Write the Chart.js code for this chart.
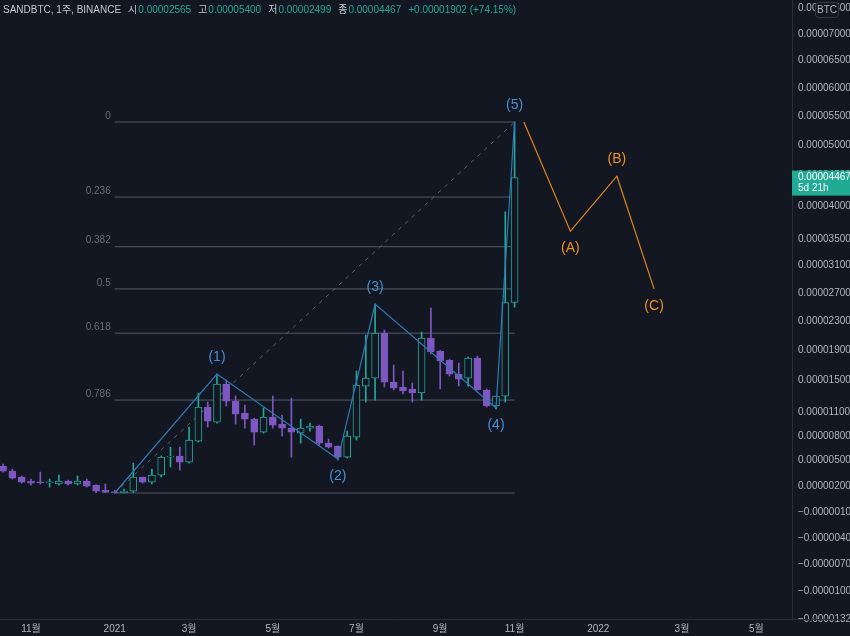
<!DOCTYPE html>
<html>
<head>
<meta charset="utf-8">
<script src="https://cdn.jsdelivr.net/npm/chart.js@4.4.0/dist/chart.umd.min.js"></script>
<style>
  html, body { margin: 0; padding: 0; background: #131722; }
  #wrap { width: 850px; height: 636px; }
</style>
</head>
<body>
<div id="wrap"><canvas id="chart" width="850" height="636"></canvas></div>
<script>
// SANDBTC weekly, prices in satoshi (1e-8 BTC). week 0 = week of 2020-10-12
const candleOpen  = [436, 376, 306, 259, 247, 238, 224, 259, 224, 259, 212, 150, 130, 124, 141, 306, 247, 329, 543, 555, 483, 737, 1161, 972, 1455, 1237, 1085, 1009, 847, 1034, 947, 897, 835, 897, 922, 712, 676, 543, 786, 1430, 1534, 2139, 1481, 1417, 1392, 1340, 2070, 1894, 1773, 1587, 1534, 1800, 1379, 1174, 1301, 2565];
const candleHigh  = [460, 400, 318, 282, 364, 282, 329, 270, 318, 282, 215, 224, 153, 165, 471, 306, 400, 555, 664, 664, 909, 1340, 1224, 1587, 1508, 1301, 1186, 1020, 1148, 1301, 1060, 1275, 1009, 959, 934, 761, 680, 860, 1627, 2111, 2544, 2180, 1706, 1627, 1469, 2152, 2487, 1900, 1780, 1733, 1813, 1827, 1392, 1301, 3920, 5400];
const candleLow   = [364, 282, 235, 212, 224, 188, 212, 212, 212, 188, 125, 123, 120, 121, 125, 235, 224, 306, 424, 388, 471, 725, 909, 959, 1174, 947, 897, 688, 835, 897, 798, 543, 712, 860, 688, 652, 507, 531, 749, 1224, 1250, 1417, 1379, 1327, 1224, 1250, 1854, 1392, 1560, 1430, 1430, 1379, 1161, 1136, 1224, 2499];
const candleClose = [376, 294, 247, 235, 238, 245, 259, 224, 259, 200, 141, 128, 122, 141, 306, 247, 329, 543, 555, 483, 749, 1161, 984, 1455, 1237, 1072, 1009, 847, 1034, 934, 897, 847, 897, 922, 712, 664, 543, 798, 1443, 1534, 2139, 1481, 1404, 1366, 1340, 2070, 1881, 1760, 1587, 1521, 1800, 1385, 1174, 1301, 2565, 4467];

const xTickWeeks  = [3, 12, 20, 29, 38, 47, 55, 64, 73, 81];
const xTickLabels = ['11월', '2021', '3월', '5월', '7월', '9월', '11월', '2022', '3월', '5월'];
const yTicks = [7500, 7000, 6500, 6000, 5500, 5000, 4500, 4000, 3500, 3100, 2700, 2300, 1900, 1500, 1100, 800, 500, 200, -100, -400, -700, -1000, -1320];

// Elliott wave drawing (week, price)
const waveWeeks  = [12, 23, 36, 40, 53, 55];
const wavePrices = [120, 1587, 519, 2544, 1150, 5400];
const waveLabels = ['', '(1)', '(2)', '(3)', '(4)', '(5)'];
const abcWeeks  = [56, 61, 66, 70];
const abcPrices = [5400, 3620, 4490, 2760];
const abcLabels = ['', '(A)', '(B)', '(C)'];

// fib retracement
const fibWeeks  = [12, 55];
const fibLow  = 120;
const fibHigh = 5400;
const fibLevels = [0, 0.236, 0.382, 0.5, 0.618, 0.786, 1];
const fibLabels = ['0', '0.236', '0.382', '0.5', '0.618', '0.786', ''];

const symbolText = 'SANDBTC, 1주, BINANCE';
const ohlcNames = ['시', '고', '저', '종'];
const remainText = '5d 21h';

const BG = '#131722';
const BULL = '#26a69a';
const BEAR = '#7e57c2';
const AXIS_TEXT = '#b2b5be';
const FONT = '"Liberation Sans", "Noto Sans CJK KR", sans-serif';

const WARP = 10500;
class WarpScale extends Chart.LinearScale {
    warp(v) { return v >= 0 ? Math.log(1 + v / WARP) : v / WARP; }
    unwarp(g) { return g >= 0 ? WARP * (Math.exp(g) - 1) : g * WARP; }
    getPixelForValue(v) {
        const a = this.warp(this.min), b = this.warp(this.max);
        return this.getPixelForDecimal((this.warp(v) - a) / (b - a));
    }
    getValueForPixel(p) {
        const a = this.warp(this.min), b = this.warp(this.max);
        return this.unwarp(a + this.getDecimalForPixel(p) * (b - a));
    }
}
WarpScale.id = 'warp';
WarpScale.defaults = Chart.LinearScale.defaults;
Chart.register(WarpScale);

function fmt(v) {
    const s = (Math.abs(v) / 1e8).toFixed(8);
    return v < 0 ? '\u2212' + s : s;
}

const weeks = candleOpen.map((_, i) => i);
const isBull = i => candleClose[i] >= candleOpen[i];

const wicks = weeks.map(i => ({ x: i, y: [candleLow[i], candleHigh[i]] }));
const bodies = weeks.map(i => ({ x: i, y: [candleOpen[i], candleClose[i]] }));

const fibSets = fibLevels.map(l => {
    const price = fibHigh - l * (fibHigh - fibLow);
    return {
        type: 'line',
        data: [{ x: fibWeeks[0], y: price }, { x: fibWeeks[1], y: price }],
        borderColor: '#555965',
        borderWidth: 1,
        pointRadius: 0,
        order: 5
    };
});

const overlay = {
    id: 'overlay',
    afterDatasetsDraw(chart) {
        const { ctx, scales: { x, y } } = chart;
        ctx.save();
        // fib labels
        ctx.font = '10px ' + FONT;
        ctx.fillStyle = '#6a6d78';
        ctx.textAlign = 'right';
        ctx.textBaseline = 'middle';
        fibLevels.forEach((l, i) => {
            const price = fibHigh - l * (fibHigh - fibLow);
            ctx.fillText(fibLabels[i], x.getPixelForValue(fibWeeks[0]) - 4, y.getPixelForValue(price) - 6);
        });
        // wave labels
        const drawLabels = (wk, pr, lb, color) => {
            ctx.fillStyle = color;
            ctx.font = '14px ' + FONT;
            ctx.textAlign = 'center';
            for (let i = 1; i < wk.length; i++) {
                const up = pr[i] > pr[i - 1];
                ctx.fillText(lb[i], x.getPixelForValue(wk[i]), y.getPixelForValue(pr[i]) + (up ? -17 : 17));
            }
        };
        drawLabels(waveWeeks, wavePrices, waveLabels, '#4a8fcf');
        drawLabels(abcWeeks, abcPrices, abcLabels, '#ef8f25');
        ctx.restore();
    },
    afterDraw(chart) {
        const { ctx, chartArea, scales: { y } } = chart;
        const last = candleClose.length - 1;
        ctx.save();
        // bottom border across price axis
        ctx.strokeStyle = '#2a2e39';
        ctx.beginPath();
        ctx.moveTo(chartArea.right, chartArea.bottom + 0.5);
        ctx.lineTo(chart.width, chartArea.bottom + 0.5);
        ctx.stroke();

        // current price label
        const py = y.getPixelForValue(candleClose[last]);
        ctx.fillStyle = '#22ab94';
        ctx.fillRect(chartArea.right, py - 7, chart.width - chartArea.right, 25);
        ctx.fillStyle = '#ffffff';
        ctx.font = '10px ' + FONT;
        ctx.textAlign = 'left';
        ctx.textBaseline = 'middle';
        ctx.fillText(fmt(candleClose[last]), chartArea.right + 6, py);
        ctx.fillText(remainText, chartArea.right + 6, py + 11);

        // currency box
        ctx.fillStyle = BG;
        ctx.strokeStyle = '#363a45';
        ctx.beginPath();
        ctx.roundRect(815.5, 2.5, 23, 15, 3);
        ctx.fill();
        ctx.stroke();
        ctx.fillStyle = AXIS_TEXT;
        ctx.textAlign = 'center';
        ctx.fillText('BTC', 827, 10);

        // header legend
        const prevClose = candleClose[last - 1];
        const chg = candleClose[last] - prevClose;
        const parts = [[symbolText, '#c3c6ce', 7]];
        const vals = [candleOpen[last], candleHigh[last], candleLow[last], candleClose[last]];
        ohlcNames.forEach((n, i) => {
            parts.push([n, '#c3c6ce', 1]);
            parts.push([fmt(vals[i]), BULL, 7]);
        });
        parts.push(['+' + fmt(chg) + ' (+' + (chg / prevClose * 100).toFixed(2) + '%)', BULL, 0]);
        ctx.font = '10px ' + FONT;
        ctx.textAlign = 'left';
        let cx = 3;
        parts.forEach(([t, c, gap]) => {
            ctx.fillStyle = c;
            ctx.fillText(t, cx, 10);
            cx += ctx.measureText(t).width + gap;
        });
        ctx.restore();
    }
};

new Chart(document.getElementById('chart'), {
    type: 'bar',
    data: {
        datasets: [
            {
                type: 'line',
                data: waveWeeks.map((w, i) => ({ x: w, y: wavePrices[i] })),
                borderColor: '#3179b5',
                borderWidth: 1.2,
                pointRadius: 0,
                tension: 0,
                order: 0
            },
            {
                type: 'line',
                data: abcWeeks.map((w, i) => ({ x: w, y: abcPrices[i] })),
                borderColor: '#dd861f',
                borderWidth: 1.2,
                pointRadius: 0,
                tension: 0,
                order: 0
            },
            {
                data: bodies,
                backgroundColor: weeks.map(i => isBull(i) ? BG : BEAR),
                borderColor: weeks.map(i => isBull(i) ? BULL : BEAR),
                borderWidth: 1,
                borderSkipped: false,
                barThickness: 7,
                minBarLength: 1,
                grouped: false,
                order: 2
            },
            {
                data: wicks,
                backgroundColor: weeks.map(i => isBull(i) ? BULL : BEAR),
                barThickness: 1,
                grouped: false,
                order: 3
            },
            {
                type: 'line',
                data: [{ x: fibWeeks[0], y: fibLow }, { x: fibWeeks[1], y: fibHigh }],
                borderColor: '#5d606b',
                borderWidth: 1,
                borderDash: [4, 5],
                pointRadius: 0,
                order: 4
            },
            ...fibSets
        ]
    },
    options: {
        responsive: false,
        animation: false,
        events: [],
        layout: { padding: 0 },
        plugins: {
            legend: { display: false },
            tooltip: { enabled: false }
        },
        scales: {
            x: {
                type: 'linear',
                min: -0.333,
                max: 84.83,
                offset: false,
                bounds: 'data',
                grid: { display: false, drawTicks: false },
                border: { color: '#2a2e39' },
                afterBuildTicks: s => { s.ticks = xTickWeeks.map(v => ({ value: v })); },
                afterFit: s => { s.height = 17; s.paddingLeft = 0; s.paddingRight = 0; },
                ticks: {
                    autoSkip: false,
                    maxRotation: 0,
                    padding: 4,
                    color: AXIS_TEXT,
                    font: { family: FONT, size: 10 },
                    callback: (v, i) => xTickLabels[i]
                }
            },
            y: {
                type: 'warp',
                position: 'right',
                min: -1320,
                max: 7657,
                bounds: 'data',
                grid: { display: false, drawTicks: false },
                border: { color: '#2a2e39' },
                afterBuildTicks: s => { s.ticks = yTicks.map(v => ({ value: v })); },
                afterFit: s => { s.width = 58; s.paddingTop = 0; s.paddingBottom = 0; },
                ticks: {
                    autoSkip: false,
                    padding: 6,
                    color: AXIS_TEXT,
                    font: { family: FONT, size: 10 },
                    callback: v => fmt(v)
                }
            }
        }
    },
    plugins: [overlay]
});
</script>
</body>
</html>
